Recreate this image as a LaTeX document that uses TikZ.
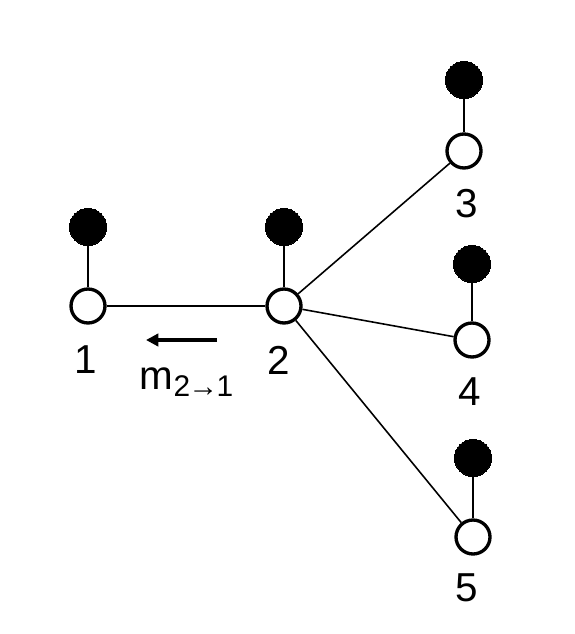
\documentclass[tikz,border=0pt]{standalone}
\usepackage{fontspec}
\setmainfont{Liberation Sans}
\usetikzlibrary{arrows.meta, positioning}
\tikzset{
  % variable nodes (open) and factor nodes (filled)
  varnode/.style={circle, draw=black, fill=white, line width=1.9pt,
    minimum size=0.68cm, inner sep=0pt},
  obsnode/.style={circle, draw=black, fill=black, line width=0pt,
    minimum size=0.74cm, inner sep=0pt},
  % edges
  link/.style={line width=0.9pt, black},
  msgarrow/.style={-{Triangle[length=7pt, width=7pt]}, line width=2.2pt},
  % labels
  numlabel/.style={font=\fontsize{23}{27}\selectfont},
}

\begin{document}
\begin{tikzpicture}[x=0.02cm, y=-0.02cm]
  \useasboundingbox (0,0) rectangle (574,634);

  % open nodes
  \node[varnode] (v1) at (88, 306) {};
  \node[varnode] (v2) at (284, 306) {};
  \node[varnode] (v3) at (464, 151) {};
  \node[varnode] (v4) at (472, 340) {};
  \node[varnode] (v5) at (473, 537) {};

  % filled nodes
  \node[obsnode] (f1) at (88, 227) {};
  \node[obsnode] (f2) at (284, 227) {};
  \node[obsnode] (f3) at (464, 80) {};
  \node[obsnode] (f4) at (472, 264) {};
  \node[obsnode] (f5) at (473, 458) {};

  % labels
  \node[numlabel] (l1) at (86, 360) {1};
  \node[numlabel] (l2) at (279, 360) {2};
  \node[numlabel] (l3) at (467, 204) {3};
  \node[numlabel] (l4) at (470, 392) {4};
  \node[numlabel] (l5) at (467, 588) {5};

  % edges
  \foreach \i in {1,...,5}
    \draw[link] (f\i) -- (v\i);
  \draw[link] (v1) -- (v2);
  \draw[link] (v2) -- (v3);
  \draw[link] (v2) -- (v4);
  \draw[link] (v2) -- (v5);

  % message
  \coordinate (mstart) at (217, 340);
  \coordinate (mend) at (146, 340);
  \draw[msgarrow] (mstart) -- (mend);
  \node[numlabel] (msg) at (187, 382) {m\textsubscript{\fontsize{17}{20}\selectfont 2\kern-1pt→\kern-1pt1}};
\end{tikzpicture}
\end{document}
